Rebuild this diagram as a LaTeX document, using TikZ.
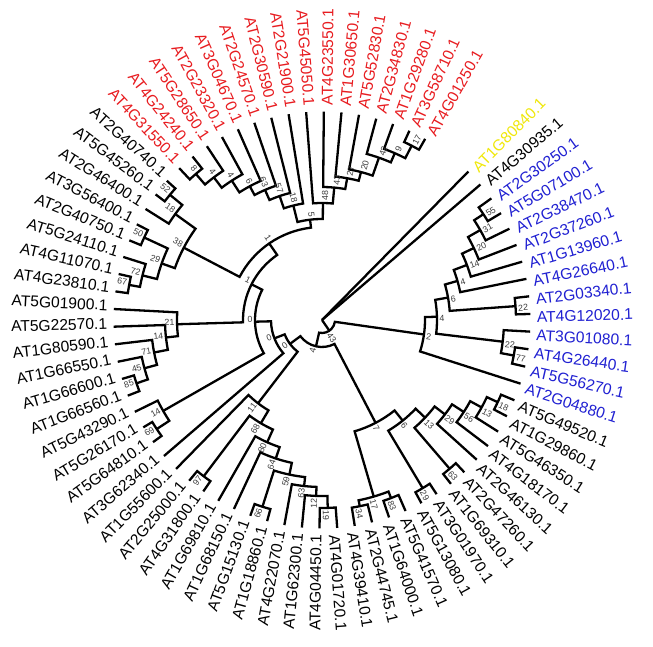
\documentclass[tikz,border=0pt]{standalone}
\usepackage{fontspec}
\setmainfont{Liberation Sans}
\definecolor{tred}{RGB}{232,28,32}
\definecolor{tblue}{RGB}{32,32,210}
\definecolor{tyellow}{RGB}{240,232,10}
\definecolor{tblack}{RGB}{0,0,0}
\definecolor{bsgray}{RGB}{60,60,60}
\tikzset{
  branch/.style={line width=2.3pt, line join=miter, line cap=butt},
  leaflabel/.style={font=\fontsize{15.6}{16}\selectfont, inner sep=0pt, outer sep=0pt},
  bslabel/.style={font=\fontsize{8.8}{9}\selectfont, text=bsgray, inner sep=0.6pt},
}
\newcommand\setang[2]{\expandafter\xdef\csname tang-#1\endcsname{#2}}
\newcommand\getang[1]{\csname tang-#1\endcsname}
\newcommand\TLeaf[4]{%
  \pgfmathsetmacro\myang{50.26-4.86*#2}%
  \setang{#1}{\myang}%
  \coordinate (n-#1) at (\myang:208.5pt);%
  \pgfmathsetmacro\mylang{\myang-0.9}%
  \pgfmathtruncatemacro\myside{cos(\myang)>=0?1:0}%
  \ifnum\myside=1
    \node[leaflabel,text=#3,anchor=west,rotate=\myang] (t-#1) at (\mylang:215pt) {#4};%
  \else
    \pgfmathsetmacro\myrot{\myang+180}%
    \node[leaflabel,text=#3,anchor=east,rotate=\myrot] (t-#1) at (\mylang:215pt) {#4};%
  \fi}
\newcommand\TNode[5]{%
  \pgfmathsetmacro\myangA{\getang{#3}}%
  \pgfmathsetmacro\myangB{\getang{#4}}%
  \pgfmathsetmacro\myang{(\myangA+\myangB)/2}%
  \setang{#1}{\myang}%
  \coordinate (n-#1) at (\myang:#2pt);%
  \coordinate (p-#3) at (\myangA:#2pt);%
  \coordinate (p-#4) at (\myangB:#2pt);%
  \draw[branch] (n-#3) -- (p-#3) arc[start angle=\myangA, end angle=\myangB, radius=#2pt] -- (n-#4);%
  \pgfmathsetmacro\mylang{\myang-115/#2}%
  \pgfmathsetmacro\myrl{#2+1.8}%
  \pgfmathtruncatemacro\myside{cos(\myang)>=0?1:0}%
  \ifnum\myside=1
    \node[bslabel,anchor=west,rotate=\myang] (b-#1) at (\mylang:\myrl pt) {#5};%
  \else
    \pgfmathsetmacro\myrot{\myang+180}%
    \node[bslabel,anchor=east,rotate=\myrot] (b-#1) at (\mylang:\myrl pt) {#5};%
  \fi}
\begin{document}
\begin{tikzpicture}
\fill[white] (-322pt,-327pt) rectangle (331pt,320pt);
\useasboundingbox (-322pt,-327pt) rectangle (331pt,320pt);
% leaves
\TLeaf{L1}{1}{tyellow}{AT1G80840.1}
\TLeaf{L2}{2}{tblack}{AT4G30935.1}
\TLeaf{L3}{3}{tblue}{AT2G30250.1}
\TLeaf{L4}{4}{tblue}{AT5G07100.1}
\TLeaf{L5}{5}{tblue}{AT2G38470.1}
\TLeaf{L6}{6}{tblue}{AT2G37260.1}
\TLeaf{L7}{7}{tblue}{AT1G13960.1}
\TLeaf{L8}{8}{tblue}{AT4G26640.1}
\TLeaf{L9}{9}{tblue}{AT2G03340.1}
\TLeaf{L10}{10}{tblue}{AT4G12020.1}
\TLeaf{L11}{11}{tblue}{AT3G01080.1}
\TLeaf{L12}{12}{tblue}{AT4G26440.1}
\TLeaf{L13}{13}{tblue}{AT5G56270.1}
\TLeaf{L14}{14}{tblue}{AT2G04880.1}
\TLeaf{L15}{15}{tblack}{AT5G49520.1}
\TLeaf{L16}{16}{tblack}{AT1G29860.1}
\TLeaf{L17}{17}{tblack}{AT5G46350.1}
\TLeaf{L18}{18}{tblack}{AT4G18170.1}
\TLeaf{L19}{19}{tblack}{AT2G46130.1}
\TLeaf{L20}{20}{tblack}{AT2G47260.1}
\TLeaf{L21}{21}{tblack}{AT1G69310.1}
\TLeaf{L22}{22}{tblack}{AT3G01970.1}
\TLeaf{L23}{23}{tblack}{AT5G13080.1}
\TLeaf{L24}{24}{tblack}{AT5G41570.1}
\TLeaf{L25}{25}{tblack}{AT1G64000.1}
\TLeaf{L26}{26}{tblack}{AT2G44745.1}
\TLeaf{L27}{27}{tblack}{AT4G39410.1}
\TLeaf{L28}{28}{tblack}{AT4G01720.1}
\TLeaf{L29}{29}{tblack}{AT4G04450.1}
\TLeaf{L30}{30}{tblack}{AT1G62300.1}
\TLeaf{L31}{31}{tblack}{AT4G22070.1}
\TLeaf{L32}{32}{tblack}{AT1G18860.1}
\TLeaf{L33}{33}{tblack}{AT5G15130.1}
\TLeaf{L34}{34}{tblack}{AT1G68150.1}
\TLeaf{L35}{35}{tblack}{AT1G69810.1}
\TLeaf{L36}{36}{tblack}{AT4G31800.1}
\TLeaf{L37}{37}{tblack}{AT2G25000.1}
\TLeaf{L38}{38}{tblack}{AT1G55600.1}
\TLeaf{L39}{39}{tblack}{AT3G62340.1}
\TLeaf{L40}{40}{tblack}{AT5G64810.1}
\TLeaf{L41}{41}{tblack}{AT5G26170.1}
\TLeaf{L42}{42}{tblack}{AT5G43290.1}
\TLeaf{L43}{43}{tblack}{AT1G66560.1}
\TLeaf{L44}{44}{tblack}{AT1G66600.1}
\TLeaf{L45}{45}{tblack}{AT1G66550.1}
\TLeaf{L46}{46}{tblack}{AT1G80590.1}
\TLeaf{L47}{47}{tblack}{AT5G22570.1}
\TLeaf{L48}{48}{tblack}{AT5G01900.1}
\TLeaf{L49}{49}{tblack}{AT4G23810.1}
\TLeaf{L50}{50}{tblack}{AT4G11070.1}
\TLeaf{L51}{51}{tblack}{AT5G24110.1}
\TLeaf{L52}{52}{tblack}{AT2G40750.1}
\TLeaf{L53}{53}{tblack}{AT3G56400.1}
\TLeaf{L54}{54}{tblack}{AT2G46400.1}
\TLeaf{L55}{55}{tblack}{AT5G45260.1}
\TLeaf{L56}{56}{tblack}{AT2G40740.1}
\TLeaf{L57}{57}{tred}{AT4G31550.1}
\TLeaf{L58}{58}{tred}{AT4G24240.1}
\TLeaf{L59}{59}{tred}{AT5G28650.1}
\TLeaf{L60}{60}{tred}{AT2G23320.1}
\TLeaf{L61}{61}{tred}{AT3G04670.1}
\TLeaf{L62}{62}{tred}{AT2G24570.1}
\TLeaf{L63}{63}{tred}{AT2G30590.1}
\TLeaf{L64}{64}{tred}{AT2G21900.1}
\TLeaf{L65}{65}{tred}{AT5G45050.1}
\TLeaf{L66}{66}{tred}{AT4G23550.1}
\TLeaf{L67}{67}{tred}{AT1G30650.1}
\TLeaf{L68}{68}{tred}{AT5G52830.1}
\TLeaf{L69}{69}{tred}{AT2G34830.1}
\TLeaf{L70}{70}{tred}{AT1G29280.1}
\TLeaf{L71}{71}{tred}{AT3G58710.1}
\TLeaf{L72}{72}{tred}{AT4G01250.1}
% blue clade
\TNode{N55}{193}{L3}{L4}{55}
\TNode{N31}{182}{N55}{L5}{31}
\TNode{N20}{168}{N31}{L6}{20}
\TNode{N14}{155}{N20}{L7}{14}
\TNode{N4b}{141}{N14}{L8}{4}
\TNode{N22a}{194}{L9}{L10}{22}
\TNode{N6}{128}{N4b}{N22a}{6}
\TNode{N77}{195}{L12}{L13}{77}
\TNode{N22b}{182}{L11}{N77}{22}
\TNode{N4}{115}{N6}{N22b}{4}
\TNode{N2}{103}{N4}{L14}{2}
% lower right clade
\TNode{N18}{194}{L15}{L16}{18}
\TNode{N13b}{182}{N18}{L17}{13}
\TNode{N56}{169}{N13b}{L18}{56}
\TNode{N29}{155}{N56}{L19}{29}
\TNode{N63}{196}{L20}{L21}{63}
\TNode{N13a}{142}{N29}{N63}{13}
\TNode{N29c}{196}{L22}{L23}{29}
\TNode{N6g}{129}{N13a}{N29c}{6}
\TNode{N83}{191}{L24}{L25}{83}
\TNode{N34}{190}{L26}{L27}{34}
\TNode{N17}{184}{N83}{N34}{17}
\TNode{N7}{116}{N6g}{N17}{7}
% lower left clade
\TNode{N19}{188}{L28}{L29}{19}
\TNode{N12}{176}{N19}{L30}{12}
\TNode{N63b}{167}{N12}{L31}{63}
\TNode{N66}{196}{L32}{L33}{66}
\TNode{N59}{158}{N63b}{N66}{59}
\TNode{N64}{146}{N59}{L34}{64}
\TNode{N80}{134}{N64}{L35}{80}
\TNode{N97}{196}{L36}{L37}{97}
\TNode{N68}{120}{N80}{N97}{68}
\TNode{N11}{105}{N68}{L38}{11}
% left clades
\TNode{N69}{198}{L40}{L41}{69}
\TNode{N14c}{183}{N69}{L42}{14}
\TNode{N85}{196}{L43}{L44}{85}
\TNode{N45}{184}{N85}{L45}{45}
\TNode{N71}{171}{N45}{L46}{71}
\TNode{N14d}{157}{N71}{L47}{14}
\TNode{N21}{145}{N14d}{L48}{21}
\TNode{N67}{196}{L49}{L50}{67}
\TNode{N72}{185}{N67}{L51}{72}
\TNode{N50}{196}{L52}{L53}{50}
\TNode{N29b}{170}{N72}{N50}{29}
\TNode{N52}{197}{L55}{L56}{52}
\TNode{N18b}{181}{L54}{N52}{18}
\TNode{N38}{156}{N29b}{N18b}{38}
% red clade
\TNode{N8}{193}{L57}{L58}{8}
\TNode{N4x}{179}{N8}{L59}{4}
\TNode{N4y}{166}{N4x}{L60}{4}
\TNode{N6r}{152}{N4y}{L61}{6}
\TNode{N63r}{142}{N6r}{L62}{63}
\TNode{N57}{131}{N63r}{L63}{57}
\TNode{N18r}{118}{N57}{L64}{18}
\TNode{N17r}{196}{L71}{L72}{17}
\TNode{N9}{182}{L70}{N17r}{9}
\TNode{N42}{172}{L69}{N9}{42}
\TNode{N20r}{153}{L68}{N42}{20}
\TNode{N27}{144}{L67}{N20r}{27}
\TNode{N43r}{133}{L66}{N27}{43}
\TNode{N48}{117}{L65}{N43r}{48}
\TNode{N5}{101}{N18r}{N48}{5}
% backbone
\TNode{A}{93}{N38}{N5}{1}
\TNode{B}{79}{N21}{A}{1}
\TNode{C}{67}{B}{N14c}{0}
\TNode{D}{51}{C}{L39}{0}
\TNode{E}{40}{D}{N11}{0}
\TNode{F}{27}{E}{N7}{4}
\TNode{G}{13}{F}{N2}{43}
\coordinate (root) at (0pt,0pt);
\draw[branch] (root) -- (n-L1);
\draw[branch] (root) -- (n-L2);
\draw[branch] (root) -- (n-G);
\end{tikzpicture}
\end{document}
